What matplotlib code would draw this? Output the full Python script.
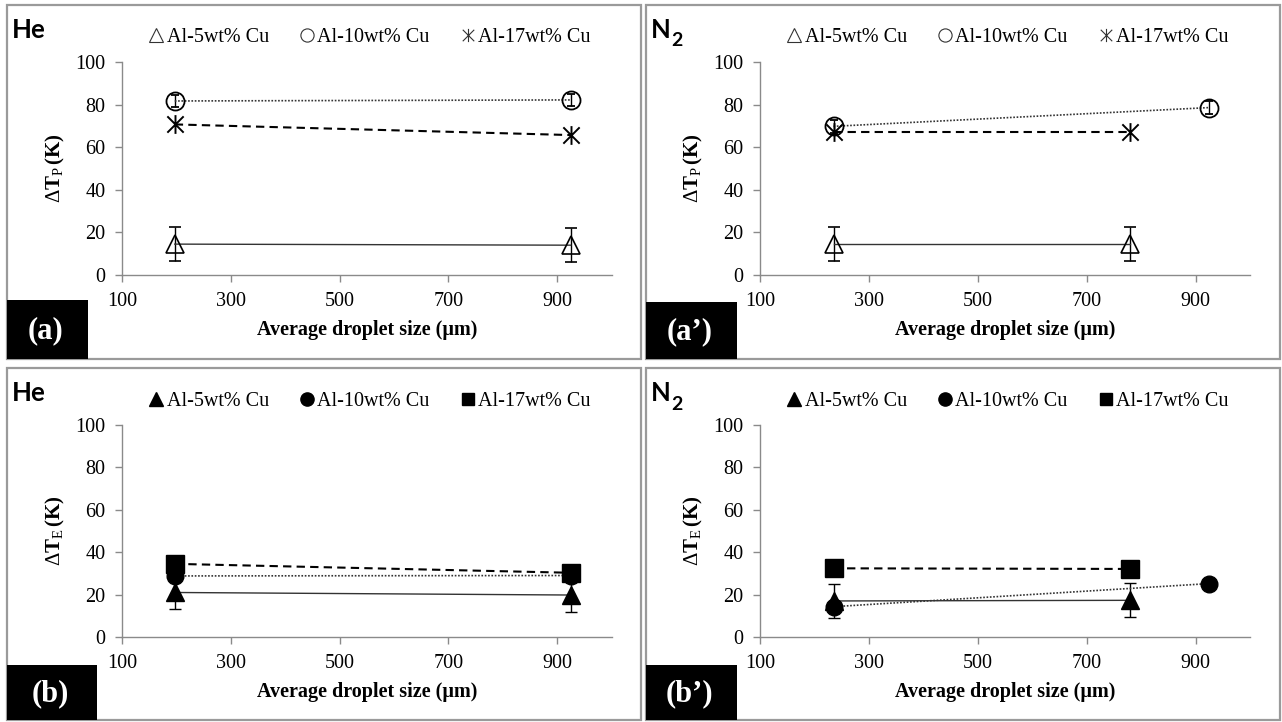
import matplotlib
matplotlib.use("Agg")
import matplotlib.pyplot as plt
from matplotlib.lines import Line2D
from matplotlib.path import Path
from matplotlib.patches import Rectangle

# ---------------- data ----------------
x_he = [197, 925]
x_n2_5 = [235, 780]
x_n2_10 = [235, 925]
x_n2_17 = [235, 780]

tp_he_5 = [14.5, 14.0]
tp_he_10 = [81.7, 82.2]
tp_he_17 = [70.7, 65.7]
tp_n2_5 = [14.5, 14.5]
tp_n2_10 = [69.8, 78.6]
tp_n2_17 = [67.0, 67.0]

te_he_5 = [21.0, 19.8]
te_he_10 = [28.8, 29.0]
te_he_17 = [34.5, 30.3]
te_n2_5 = [17.0, 17.3]
te_n2_10 = [14.3, 25.2]
te_n2_17 = [32.4, 32.1]

err_5 = [8.0, 8.0]
err_10_p = [3.0, 3.0]
err_10_e = [2.0, 2.0]

series_names = ["Al-5wt% Cu", "Al-10wt% Cu", "Al-17wt% Cu"]
x_ticks = [100, 300, 500, 700, 900]
y_ticks = [0, 20, 40, 60, 80, 100]

# ---------------- style ----------------
plt.rcParams['font.family'] = ['Liberation Serif', 'DejaVu Serif']
plt.rcParams['mathtext.fontset'] = 'custom'
plt.rcParams['mathtext.rm'] = 'Liberation Serif'
plt.rcParams['mathtext.bf'] = 'Liberation Serif:bold'
plt.rcParams['mathtext.it'] = 'Liberation Serif:italic'

W, H = 1282, 722
fig = plt.figure(figsize=(W / 100, H / 100), dpi=100)

star_path = Path([(-1, -1), (1, 1), (-1, 1), (1, -1), (0, -1.15), (0, 1.15)],
                 [Path.MOVETO, Path.LINETO, Path.MOVETO, Path.LINETO, Path.MOVETO, Path.LINETO])

GRAY = '#8a8a8a'


def fx(x):
    return x / W


def fy(y):
    return 1 - y / H


def rect_px(x0, y0, x1, y1):
    return [fx(x0), fy(y1), fx(x1) - fx(x0), fy(y0) - fy(y1)]


def draw_panel(frame, axbox, labbox, lab, gas, ylabel, filled, data):
    # panel frame
    fig.patches.append(Rectangle((fx(frame[0]), fy(frame[3])), fx(frame[2]) - fx(frame[0]),
                                 fy(frame[1]) - fy(frame[3]), transform=fig.transFigure,
                                 fill=False, edgecolor='#9a9a9a', lw=1.6, zorder=0))
    ax = fig.add_axes(rect_px(*axbox))
    ax.set_facecolor('none')
    (x5, y5), (x10, y10, e10), (x17, y17) = data
    if filled:
        mk5 = dict(marker='^', mfc='black', mec='black', ms=13.5)
        mk10 = dict(marker='o', mfc='black', mec='black', ms=12)
        mk17 = dict(marker='s', mfc='black', mec='black', ms=12.5)
    else:
        mk5 = dict(marker='^', mfc='none', mec='black', ms=13.5, mew=1.2)
        mk10 = dict(marker='o', mfc='none', mec='black', ms=13, mew=1.3)
        mk17 = dict(marker=star_path, mfc='none', mec='black', ms=13.5, mew=1.4)
    ax.errorbar(x5, y5, yerr=err_5, color='#333333', lw=1.0, ecolor='black', elinewidth=1.0,
                capsize=4, capthick=1.0, ls='-', **mk5, zorder=3)
    ax.errorbar(x10, y10, yerr=e10, color='#333333', lw=1.2, ecolor='black', elinewidth=1.0,
                capsize=3, capthick=1.0, ls=(0, (1, 1)), **mk10, zorder=3)
    ax.plot(x17, y17, color='black', lw=1.5, ls=(0, (4, 2.5)), **mk17, zorder=4)

    ax.set_xlim(100, 1000)
    ax.set_ylim(0, 100)
    ax.set_xticks(x_ticks)
    ax.set_yticks(y_ticks)
    for s in ['top', 'right']:
        ax.spines[s].set_visible(False)
    for s in ['left', 'bottom']:
        ax.spines[s].set_color(GRAY)
        ax.spines[s].set_linewidth(1.0)
    ax.tick_params(axis='both', colors=GRAY, labelcolor='black', labelsize=14.5,
                   length=5, width=1.0, direction='out', pad=7)
    ax.set_xlabel('Average droplet size (μm)', fontsize=14.5, fontweight='bold')
    ax.xaxis.set_label_coords(0.5, -0.258)
    ax.xaxis.label.set_va('center')
    ax.set_ylabel(ylabel, fontsize=15, fontweight='bold')
    ax.yaxis.set_label_coords(-0.135, 0.5)
    ax.yaxis.label.set_va('center')

    # legend
    if filled:
        hs = [Line2D([], [], ls='none', marker='^', mfc='black', mec='black', ms=9.5),
              Line2D([], [], ls='none', marker='o', mfc='black', mec='black', ms=9.5),
              Line2D([], [], ls='none', marker='s', mfc='black', mec='black', ms=9)]
    else:
        hs = [Line2D([], [], ls='none', marker='^', mfc='none', mec='#333333', ms=9.5, mew=0.8),
              Line2D([], [], ls='none', marker='o', mfc='none', mec='#333333', ms=9.5, mew=0.8),
              Line2D([], [], ls='none', marker=star_path, mfc='none', mec='#333333', ms=9.5, mew=0.8)]
    ax.legend(hs, series_names, loc='center left', bbox_to_anchor=(0.056, 1.113), ncol=3,
              frameon=False, fontsize=14.5, handlelength=0.7, handletextpad=0.15,
              columnspacing=1.55, borderaxespad=0, borderpad=0)

    # gas title
    if gas == 'He':
        fig.text(fx(frame[0] + 5), fy(frame[1] + 25), 'He', fontsize=18.5, fontweight='bold',
                 family='Lato', va='center', ha='left')
    else:
        fig.text(fx(frame[0] + 5), fy(frame[1] + 25), 'N', fontsize=18.5, fontweight='bold',
                 family='Lato', va='center', ha='left')
        fig.text(fx(frame[0] + 25), fy(frame[1] + 36), '2', fontsize=14, fontweight='bold',
                 family='Lato', va='center', ha='left')

    # label box
    fig.patches.append(Rectangle((fx(labbox[0]), fy(labbox[3])), fx(labbox[2]) - fx(labbox[0]),
                                 fy(labbox[1]) - fy(labbox[3]), transform=fig.transFigure,
                                 facecolor='black', edgecolor='none', zorder=1))
    fig.text(fx((labbox[0] + labbox[2]) / 2 - 2), fy((labbox[1] + labbox[3]) / 2 + 1), lab,
             color='white', fontsize=22, fontweight='bold', ha='center', va='center', zorder=2)
    return ax


ylab_p = r'$\Delta\mathbf{T}_{\mathrm{P}}\,\mathbf{(K)}$'
ylab_e = r'$\Delta\mathbf{T}_{\mathrm{E}}\,\mathbf{(K)}$'

draw_panel((7, 5, 641, 359), (122, 62, 611.5, 275), (7, 300, 88, 359), '(a)', 'He', ylab_p, False,
           [(x_he, tp_he_5), (x_he, tp_he_10, err_10_p), (x_he, tp_he_17)])
draw_panel((646, 5, 1280, 359), (760, 62, 1250, 275), (646, 302, 737, 359), '(a\u2019)', 'N2', ylab_p, False,
           [(x_n2_5, tp_n2_5), (x_n2_10, tp_n2_10, err_10_p), (x_n2_17, tp_n2_17)])
draw_panel((7, 368, 641, 720), (122, 425, 611.5, 637), (7, 665, 97, 720), '(b)', 'He', ylab_e, True,
           [(x_he, te_he_5), (x_he, te_he_10, err_10_e), (x_he, te_he_17)])
draw_panel((646, 368, 1280, 720), (760, 425, 1250, 637), (646, 665, 737, 720), '(b\u2019)', 'N2', ylab_e, True,
           [(x_n2_5, te_n2_5), (x_n2_10, te_n2_10, err_10_e), (x_n2_17, te_n2_17)])

fig.savefig('out.png', dpi=100)
